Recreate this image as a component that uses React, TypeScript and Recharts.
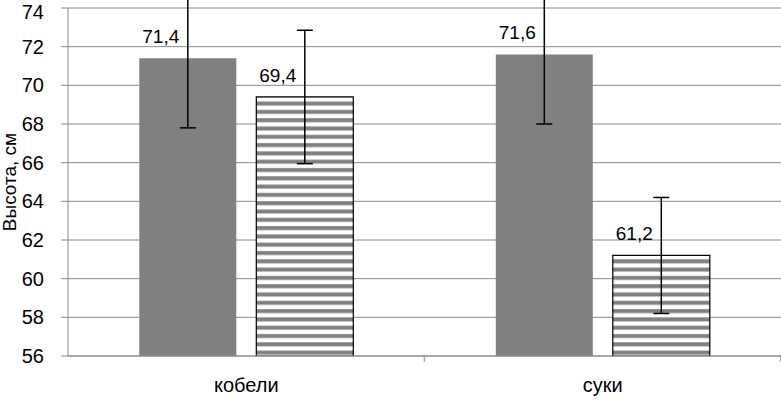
import { BarChart, Bar, XAxis, YAxis, CartesianGrid, ErrorBar, LabelList } from 'recharts';

const categories = ['кобели', 'суки'];
const seriesA = [71.4, 71.6];
const seriesB = [69.4, 61.2];
const errA = [3.6, 3.6];
const errB = [3.45, 3.0];
const yTicks = [56, 58, 60, 62, 64, 66, 68, 70, 72, 74];

const data = categories.map((name, i) => ({
  name,
  a: seriesA[i],
  b: seriesB[i],
  ea: errA[i],
  eb: errB[i],
}));

const FONT = '"Liberation Sans", Arial, sans-serif';
const GRID = '#8a8a8a';

const fmt = (v: number) => v.toFixed(1).replace('.', ',');

function ValueLabel(props: any) {
  const { x, y, width, value } = props;
  return (
    <text
      x={x + width / 2 - 27}
      y={y - 15}
      textAnchor="middle"
      fontSize={19}
      fontFamily={FONT}
      fill="#000"
    >
      {fmt(value)}
    </text>
  );
}

function CatTick(props: any) {
  const { x, y, payload } = props;
  return (
    <g>
      <line x1={x + 178} y1={y} x2={x + 178} y2={y + 6} stroke={GRID} />
      <text x={x} y={y + 36} textAnchor="middle" fontSize={20} fontFamily={FONT} fill="#000">
        {payload.value}
      </text>
    </g>
  );
}

export default function App() {
  return (
    <div style={{ position: 'absolute', left: 0, top: 0, width: 781, height: 401, background: '#fff' }}>
      <BarChart
        width={781}
        height={401}
        data={data}
        margin={{ top: 8, right: 0, bottom: 0, left: 0 }}
        barCategoryGap="20%"
        barGap={20}
      >
        <defs>
          <pattern id="stripes" width="8" height="8.3" patternUnits="userSpaceOnUse">
            <rect width="8" height="8.3" fill="#fff" />
            <rect y="2" width="8" height="4" fill="#808080" />
          </pattern>
        </defs>
        <CartesianGrid vertical={false} stroke={GRID} strokeWidth={1} />
        <XAxis
          dataKey="name"
          axisLine={{ stroke: GRID }}
          tickLine={false}
          tickSize={0}
          tickMargin={0}
          tick={<CatTick />}
          height={45}
        />
        <YAxis
          domain={[56, 74]}
          ticks={yTicks}
          allowDataOverflow
          width={68}
          axisLine={{ stroke: GRID }}
          tickLine={{ stroke: GRID }}
          tickSize={7}
          tickMargin={17}
          tick={{ fontSize: 20, fill: '#000', fontFamily: FONT }}
          label={{
            value: 'Высота, см',
            angle: -90,
            position: 'insideLeft',
            offset: 9,
            style: { textAnchor: 'middle', fontSize: 19, fill: '#000', fontFamily: FONT },
          }}
        />
        <Bar dataKey="a" fill="#808080" isAnimationActive={false}>
          <ErrorBar dataKey="ea" width={8} stroke="#000" strokeWidth={1.5} direction="y" />
          <LabelList dataKey="a" content={<ValueLabel />} />
        </Bar>
        <Bar dataKey="b" fill="url(#stripes)" stroke="#000" strokeWidth={1.2} isAnimationActive={false}>
          <ErrorBar dataKey="eb" width={8} stroke="#000" strokeWidth={1.5} direction="y" />
          <LabelList dataKey="b" content={<ValueLabel />} />
        </Bar>
      </BarChart>
    </div>
  );
}
